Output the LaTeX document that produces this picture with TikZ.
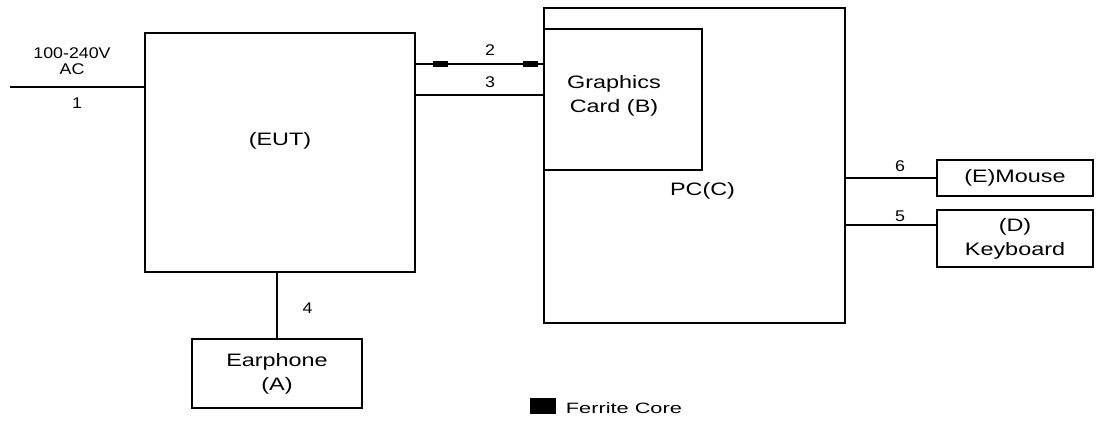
\documentclass[tikz,border=0pt]{standalone}
\usepackage{fontspec}
\setmainfont[FakeStretch=1.3]{Liberation Sans}
\newfontfamily\smallfont[FakeStretch=1.15]{Liberation Sans}
\newfontfamily\ferfont[FakeStretch=1.45]{Liberation Sans}
\begin{document}
\begin{tikzpicture}[x=1pt,y=-1pt, line width=1.8pt,
  box/.style={draw, rectangle, inner sep=0pt, line width=1.8pt},
  big/.style={font=\fontsize{18}{24}\selectfont, align=center, inner sep=0pt},
  small/.style={font=\smallfont\fontsize{15.5}{16}\selectfont, align=center, inner sep=0pt},
  ferrite/.style={fill=black, draw=none, rectangle, minimum width=15pt, minimum height=6pt, inner sep=0pt}]
\useasboundingbox (0,0) rectangle (1096,421);
% boxes
\node[box, minimum width=270pt, minimum height=239pt] (eut) at (280,152.5) {};
\node[box, minimum width=301pt, minimum height=315pt] (pc) at (694.5,165.5) {};
\node[box, minimum width=158pt, minimum height=141pt] (gfx) at (623,99.5) {};
\node[box, minimum width=156pt, minimum height=36pt, big] (mouse) at (1015,178) {(E)Mouse};
\node[box, minimum width=156pt, minimum height=57pt, big] (kbd) at (1015,238.5) {(D)\\Keyboard};
\node[box, minimum width=170pt, minimum height=69pt, big] (ear) at (277,373.5) {Earphone\\(A)};
% box texts
\node[big] (eutt) at (280,140.5) {(EUT)};
\node[big] (pct) at (702.5,191) {PC(C)};
\node[big] (gfxt) at (614,96) {Graphics\\Card (B)};
% connectors
\coordinate (ac) at (10,87);
\coordinate (y2) at (0,64);
\coordinate (y3) at (0,95);
\coordinate (y5) at (0,225);
\draw (ac) -- (eut.west |- ac);
\draw (eut.east |- y2) -- (gfx.west |- y2);
\draw (eut.east |- y3) -- (gfx.west |- y3);
\draw (pc.east |- mouse.west) -- (mouse.west);
\draw (pc.east |- y5) -- (kbd.west |- y5);
\draw (eut.south -| ear.north) -- (ear.north);
% ferrite cores
\node[ferrite] (f1) at (440.5,64) {};
\node[ferrite] (f2) at (530.5,64) {};
% labels
\node[small] (lac) at (72,61.5) {100-240V\\AC};
\node[small] (l1) at (77,103) {1};
\node[small] (l2) at (490,50.5) {2};
\node[small] (l3) at (490,82) {3};
\node[small] (l6) at (900,166.5) {6};
\node[small] (l5) at (900,216) {5};
\node[small] (l4) at (307.5,308) {4};
% legend
\node[ferrite, minimum width=26pt, minimum height=16pt] (leg) at (543,406) {};
\node[anchor=west, inner sep=0pt, font=\ferfont\fontsize{15}{15}\selectfont] (legt) at (565,408.5) {Ferrite Core};
\end{tikzpicture}
\end{document}
